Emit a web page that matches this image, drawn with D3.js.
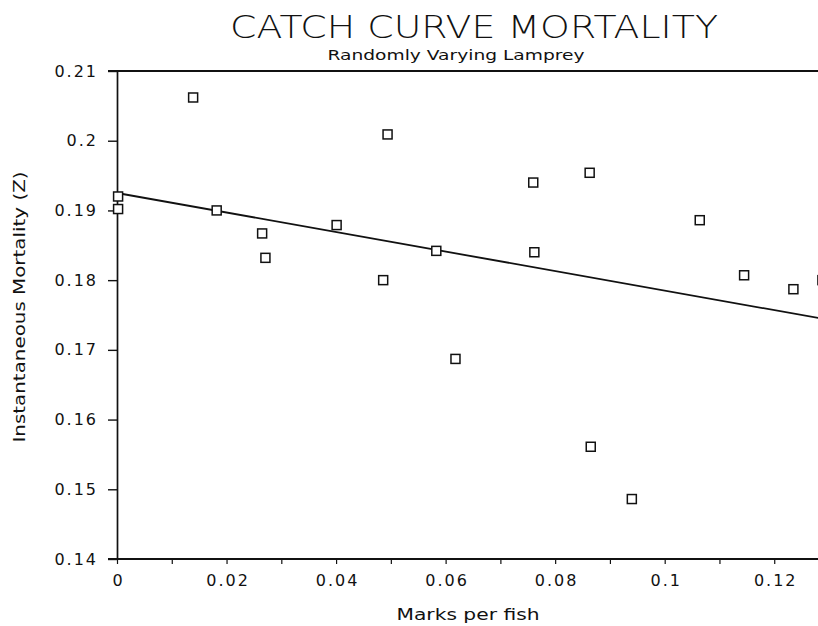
<!DOCTYPE html>
<html>
<head>
<meta charset="utf-8">
<script src="https://cdn.jsdelivr.net/npm/d3@7"></script>
<style>
  html, body { margin: 0; padding: 0; background: #fff; }
  svg { display: block; }
  text { font-family: "DejaVu Sans", sans-serif; fill: #111; }
</style>
</head>
<body>
<svg id="chart" width="818" height="626"></svg>
<script>
// ---- data ----
const marksPerFish = [0.0002, 0.0002, 0.0139, 0.0182, 0.0265, 0.0271, 0.0401, 0.0486, 0.0494,
                      0.0583, 0.0618, 0.0760, 0.0762, 0.0863, 0.0865, 0.0940, 0.1064, 0.1145, 0.1235, 0.1288];
const mortalityZ   = [0.1920, 0.1902, 0.2062, 0.1900, 0.1867, 0.1832, 0.1879, 0.1800, 0.2009,
                      0.1842, 0.1687, 0.1940, 0.1840, 0.1954, 0.1561, 0.1486, 0.1886, 0.1807, 0.1787, 0.1800];
const fitX = [0, 0.13];
const fitY = [0.1925, 0.1743];
const xTickValues = [0, 0.01, 0.02, 0.03, 0.04, 0.05, 0.06, 0.07, 0.08, 0.09, 0.10, 0.11, 0.12, 0.13];
const xTickLabels = ["0", "", "0.02", "", "0.04", "", "0.06", "", "0.08", "", "0.1", "", "0.12", ""];
const yTickValues = [0.14, 0.15, 0.16, 0.17, 0.18, 0.19, 0.20, 0.21];
const yTickLabels = ["0.14", "0.15", "0.16", "0.17", "0.18", "0.19", "0.2", "0.21"];
const titleText = "CATCH CURVE MORTALITY";
const subtitleText = "Randomly Varying Lamprey";
const xLabelText = "Marks per fish";
const yLabelText = "Instantaneous Mortality (Z)";

// ---- layout ----
const svg = d3.select("#chart");
const plotLeft = 117, plotTop = 71, plotBottom = 559, plotRightAt013 = 829;
const x = d3.scaleLinear().domain([0, 0.13]).range([plotLeft, plotRightAt013]);
const y = d3.scaleLinear().domain([0.14, 0.21]).range([plotBottom, plotTop]);
const ink = "#111";

// title
svg.append("text").attr("x", 474).attr("y", 38).attr("text-anchor", "middle")
  .attr("font-size", 32).attr("font-weight", 200)
  .style("font-family", "'DejaVu Sans', sans-serif")
  .attr("textLength", 488).attr("lengthAdjust", "spacingAndGlyphs")
  .text(titleText);
svg.append("text").attr("x", 456).attr("y", 60).attr("text-anchor", "middle")
  .attr("font-size", 14)
  .attr("textLength", 257).attr("lengthAdjust", "spacingAndGlyphs")
  .text(subtitleText);

// y axis
const yAxis = d3.axisLeft(y).tickValues(yTickValues)
  .tickFormat((d, i) => yTickLabels[i]).tickSizeInner(9).tickSizeOuter(0).tickPadding(17);
const gy = svg.append("g").attr("transform", `translate(${plotLeft},0)`).call(yAxis);
gy.select(".domain").attr("stroke", ink).attr("stroke-width", 1.7);
gy.selectAll(".tick line").attr("stroke", ink).attr("stroke-width", 1.4);
gy.selectAll(".tick text").attr("font-size", 16).attr("fill", ink)
  .style("font-family", "'DejaVu Sans', sans-serif").attr("letter-spacing", 2)
  .attr("x", -19);

// x axis
const xAxis = d3.axisBottom(x).tickValues(xTickValues)
  .tickFormat((d, i) => xTickLabels[i]).tickSizeInner(5).tickSizeOuter(0).tickPadding(11);
const gx = svg.append("g").attr("transform", `translate(0,${plotBottom})`).call(xAxis);
gx.select(".domain").remove();
gx.selectAll(".tick line").attr("stroke", ink).attr("stroke-width", 1.2);
gx.selectAll(".tick text").attr("font-size", 16).attr("fill", ink)
  .style("font-family", "'DejaVu Sans', sans-serif").attr("letter-spacing", 2)
  .attr("dx", 1);

// bottom and top frame lines
svg.append("line").attr("x1", plotLeft - 9).attr("x2", x(0.13)).attr("y1", y(0.14)).attr("y2", y(0.14))
  .attr("stroke", ink).attr("stroke-width", 1.9);
svg.append("line").attr("x1", plotLeft - 9).attr("x2", x(0.13)).attr("y1", y(0.21)).attr("y2", y(0.21))
  .attr("stroke", ink).attr("stroke-width", 1.9);

// axis titles
svg.append("text").attr("x", 468).attr("y", 620).attr("text-anchor", "middle")
  .attr("font-size", 15).attr("textLength", 143).attr("lengthAdjust", "spacingAndGlyphs")
  .text(xLabelText);
svg.append("text").attr("transform", "translate(25,307) rotate(-90)").attr("text-anchor", "middle")
  .attr("font-size", 15).attr("textLength", 271).attr("lengthAdjust", "spacingAndGlyphs")
  .text(yLabelText);

// regression line
const fit = fitX.map((v, i) => [v, fitY[i]]);
svg.append("path").datum(fit)
  .attr("d", d3.line().x(d => x(d[0])).y(d => y(d[1])))
  .attr("fill", "none").attr("stroke", ink).attr("stroke-width", 1.8);

// points
const pts = marksPerFish.map((v, i) => ({ x: v, y: mortalityZ[i] }));
const s = 9;
svg.append("g").selectAll("rect").data(pts).join("rect")
  .attr("x", d => x(d.x) - s / 2).attr("y", d => y(d.y) - s / 2)
  .attr("width", s).attr("height", s)
  .attr("fill", "#fff").attr("stroke", ink).attr("stroke-width", 1.5);
</script>
</body>
</html>
